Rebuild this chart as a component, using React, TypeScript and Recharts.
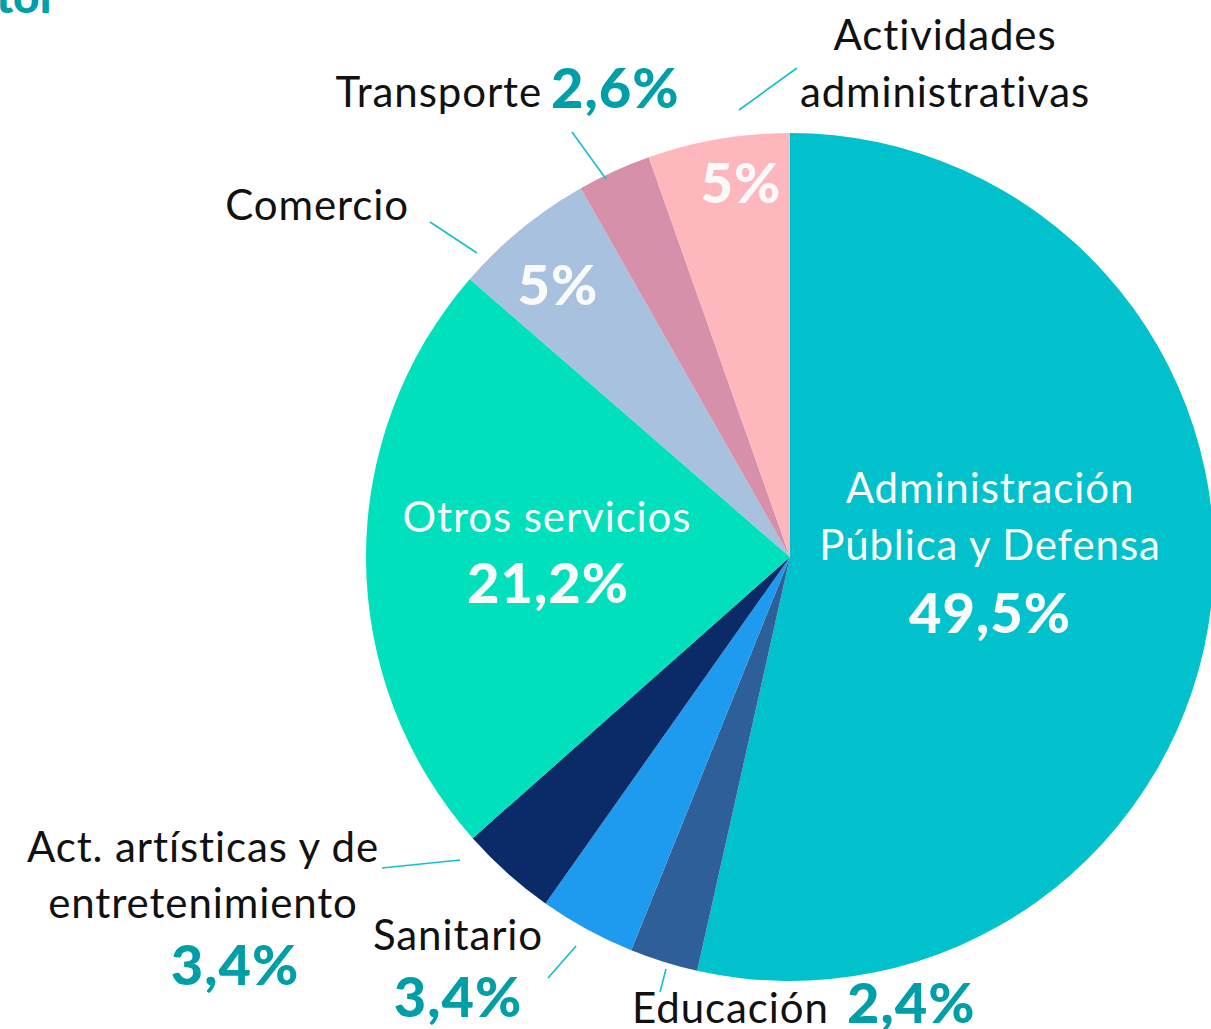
import { PieChart, Pie, Cell } from "recharts";

// sectors, clockwise from 12 o'clock
const sectors = [
    "Administración\nPública y Defensa",
    "Educación",
    "Sanitario",
    "Act. artísticas y de\nentretenimiento",
    "Otros servicios",
    "Comercio",
    "Transporte",
    "Actividades\nadministrativas",
];
const shares = [49.5, 2.4, 3.4, 3.4, 21.2, 5, 2.6, 5];
const colors = ["#00C1CC", "#2E5F98", "#1E9BEE", "#0A2A68", "#00E0BC", "#A8C1DE", "#D690A9", "#FFB7BE"];

const data = sectors.map((name, i) => ({ name, value: shares[i] }));

const FONT = "Lato, 'Open Sans', sans-serif";
const TEAL = "#009FA8";
const WHITE = "#FAFAFA";

// label placement relative to the pie centre (name lines, value, leader line)
type Lay = {
    nx: number; ny: number[]; nAnchor: string; nFill: string;
    vx: number; vy: number; vAnchor: string; vFill: string;
    line?: number[];
};
const layout: Lay[] = [
    { nx: 200, ny: [-54, 3], nAnchor: "middle", nFill: WHITE, vx: 200, vy: 76, vAnchor: "middle", vFill: WHITE },
    { nx: -158, ny: [466], nAnchor: "start", nFill: "#111", vx: 57, vy: 466, vAnchor: "start", vFill: TEAL, line: [-130, 435, -124, 412] },
    { nx: -332, ny: [393], nAnchor: "middle", nFill: "#111", vx: -332, vy: 460, vAnchor: "middle", vFill: TEAL, line: [-242, 421, -214, 389] },
    { nx: -587, ny: [305, 361], nAnchor: "middle", nFill: "#111", vx: -555, vy: 428, vAnchor: "middle", vFill: TEAL, line: [-408, 311, -330, 303] },
    { nx: -243, ny: [-25], nAnchor: "middle", nFill: WHITE, vx: -242, vy: 46, vAnchor: "middle", vFill: WHITE },
    { nx: -381, ny: [-337], nAnchor: "end", nFill: "#111", vx: -232, vy: -252, vAnchor: "middle", vFill: WHITE, line: [-360, -335, -313, -304] },
    { nx: -248, ny: [-450], nAnchor: "end", nFill: "#111", vx: -239, vy: -449, vAnchor: "start", vFill: TEAL, line: [-218, -425, -184, -378] },
    { nx: 155, ny: [-507, -450], nAnchor: "middle", nFill: "#111", vx: -49, vy: -354, vAnchor: "middle", vFill: WHITE, line: [-51, -447, 7, -489] },
];

const fmt = (v: number) => `${String(v).replace(".", ",")}%`;

function renderLabel(props: any) {
    const { cx, cy, index, value, name } = props;
    const l = layout[index];
    const lines = String(name).split("\n");
    return (
        <g key={`lbl-${index}`}>
            {l.line && (
                <line x1={cx + l.line[0]} y1={cy + l.line[1]} x2={cx + l.line[2]} y2={cy + l.line[3]}
                    stroke="#12BFCF" strokeWidth={1.6} />
            )}
            {lines.map((t, k) => (
                <text key={k} x={cx + l.nx} y={cy + l.ny[k]} textAnchor={l.nAnchor as any} fill={l.nFill}
                    style={{ fontFamily: FONT, fontSize: 42, letterSpacing: 0.9 }}>{t}</text>
            ))}
            <text x={cx + l.vx} y={cy + l.vy} textAnchor={l.vAnchor as any} fill={l.vFill}
                style={{ fontFamily: FONT, fontSize: 56, fontWeight: 900, letterSpacing: 1 }}>{fmt(value)}</text>
        </g>
    );
}

export default function App() {
    return (
        <div style={{ position: "absolute", left: 0, top: 0, width: 1211, height: 1029, overflow: "hidden", background: "#fff" }}>
            <svg width={1211} height={40} style={{ position: "absolute", left: 0, top: 0, zIndex: 2 }}>
                <text x={57} y={13} textAnchor="end" fill={TEAL} style={{ fontFamily: FONT, fontSize: 46, fontWeight: 900 }}>tor</text>
            </svg>
            <PieChart width={1211} height={1029} margin={{ top: 0, right: 0, bottom: 0, left: 0 }}>
                <Pie
                    data={data}
                    dataKey="value"
                    nameKey="name"
                    cx={790}
                    cy={557}
                    outerRadius={424}
                    startAngle={90}
                    endAngle={-270}
                    stroke="none"
                    label={renderLabel}
                    labelLine={false}
                    isAnimationActive={false}
                >
                    {data.map((d, i) => (
                        <Cell key={d.name} fill={colors[i]} />
                    ))}
                </Pie>
            </PieChart>
        </div>
    );
}
